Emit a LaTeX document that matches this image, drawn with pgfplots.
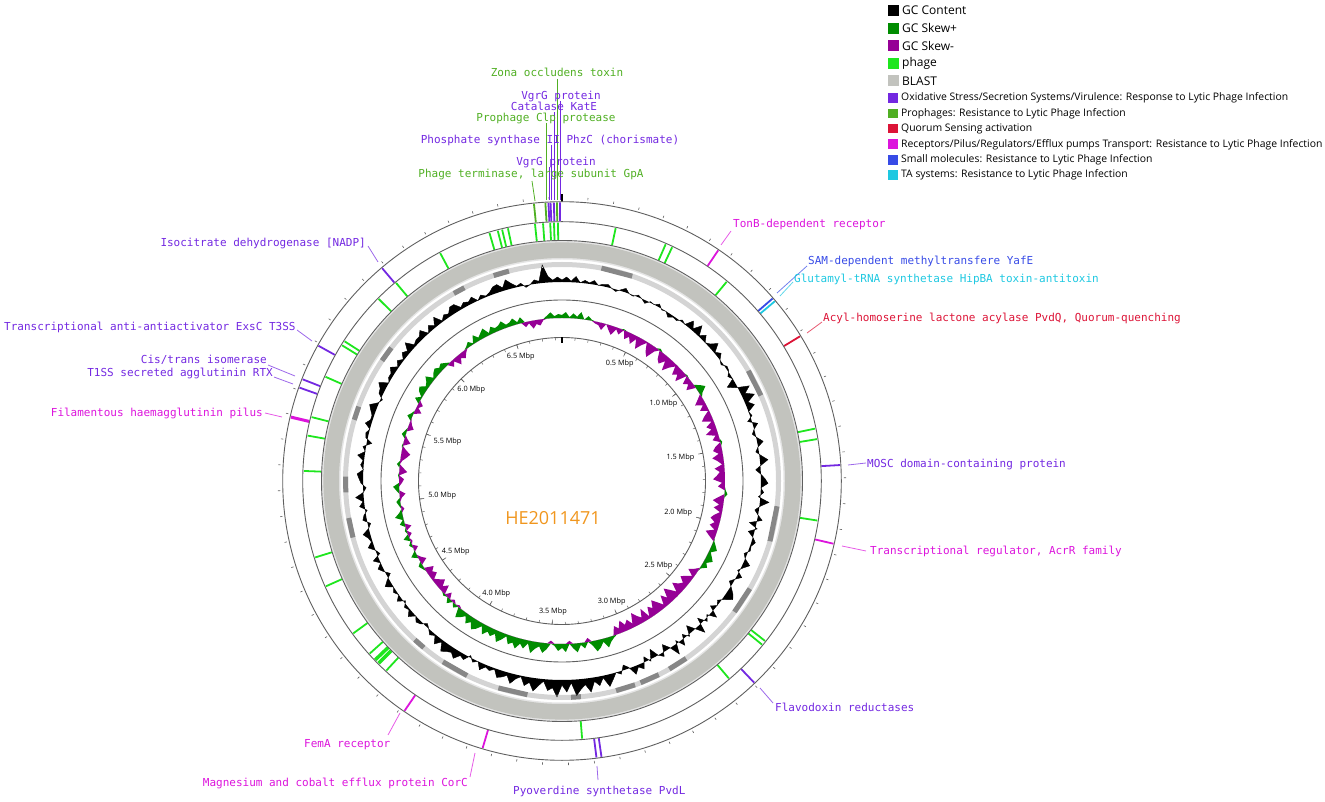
\documentclass[border=0pt]{standalone}
\usepackage{pgfplots}
\pgfplotsset{compat=1.18}
\usepackage{pgfplotstable}
\usepgfplotslibrary{fillbetween}
\usepackage{fontspec}
\setmainfont{Open Sans}
\newfontfamily\mono{DejaVu Sans Mono}

\definecolor{skewpos}{RGB}{0,140,0}
\definecolor{skewneg}{RGB}{150,0,150}
\definecolor{phage}{RGB}{30,230,30}
\definecolor{blast}{RGB}{194,195,190}
\definecolor{oxid}{RGB}{115,40,225}
\definecolor{proph}{RGB}{80,175,35}
\definecolor{quor}{RGB}{220,20,55}
\definecolor{recep}{RGB}{220,20,220}
\definecolor{smallm}{RGB}{55,75,230}
\definecolor{tasys}{RGB}{30,200,225}
\definecolor{ringc}{RGB}{95,95,95}
\definecolor{hecol}{RGB}{240,150,30}

\def\glen{6.85}
% genome position (Mbp) -> polar angle, 0 at top, clockwise
\pgfplotsset{gpos/.style={data cs=polar}}

% GC content (c) and GC skew (s) per 25 kbp window, in px off the baseline
\pgfplotstableread[row sep=\\]{
p c s\\
0.000 2 3\\ 0.025 5 6\\ 0.050 1 1\\ 0.075 6 5\\ 0.100 0 2\\ 0.125 3 7\\ 0.150 1 0\\ 0.175 4 4\\ 0.200 0 1\\ 0.225 2 -2\\
0.250 3 -3\\ 0.275 0 -7\\ 0.300 -2 0\\ 0.325 1 -5\\ 0.350 4 -9\\ 0.375 0 -2\\ 0.400 -1 -6\\ 0.425 2 1\\ 0.450 0 -8\\ 0.475 -3 -4\\
0.500 1 -10\\ 0.525 0 -3\\ 0.550 3 -12\\ 0.575 -1 -6\\ 0.600 0 -1\\ 0.625 -4 -9\\ 0.650 -1 -13\\ 0.675 -2 -4\\ 0.700 2 2\\ 0.725 0 -8\\
0.750 8 -11\\ 0.775 2 -5\\ 0.800 10 -14\\ 0.825 1 -7\\ 0.850 6 -2\\ 0.875 0 -10\\ 0.900 3 -6\\ 0.925 9 -12\\ 0.950 1 1\\ 0.975 5 -8\\
1.000 0 -4\\ 1.025 -2 -9\\ 1.050 2 5\\ 1.075 1 9\\ 1.100 -3 3\\ 1.125 0 -5\\ 1.150 -9 -10\\ 1.175 -2 -3\\ 1.200 11 -8\\ 1.225 4 -1\\
1.250 12 -7\\ 1.275 3 -11\\ 1.300 8 -2\\ 1.325 0 -9\\ 1.350 2 -5\\ 1.375 -4 -12\\ 1.400 5 -3\\ 1.425 0 -7\\ 1.450 -3 2\\ 1.475 1 -6\\
1.500 6 -9\\ 1.525 0 -4\\ 1.550 -3 -11\\ 1.575 2 -6\\ 1.600 8 -2\\ 1.625 1 -10\\ 1.650 -5 -5\\ 1.675 0 -8\\ 1.700 4 -12\\ 1.725 7 -3\\
1.750 0 -7\\ 1.775 3 1\\ 1.800 -2 3\\ 1.825 9 -6\\ 1.850 1 -11\\ 1.875 -4 -4\\ 1.900 0 -9\\ 1.925 5 -2\\ 1.950 -7 -7\\ 1.975 2 -10\\
2.000 -6 -5\\ 2.025 0 -9\\ 2.050 4 -3\\ 2.075 1 -11\\ 2.100 2 -6\\ 2.125 -3 1\\ 2.150 0 4\\ 2.175 7 7\\ 2.200 2 2\\ 2.225 -2 5\\
2.250 5 8\\ 2.275 0 3\\ 2.300 -4 6\\ 2.325 1 1\\ 2.350 6 -4\\ 2.375 9 -9\\ 2.400 2 -2\\ 2.425 -3 -7\\ 2.450 0 -11\\ 2.475 -5 -5\\
2.500 7 -8\\ 2.525 -2 -13\\ 2.550 3 -4\\ 2.575 -6 -10\\ 2.600 9 -15\\ 2.625 0 -6\\ 2.650 -8 -12\\ 2.675 2 -3\\ 2.700 -4 -9\\ 2.725 6 -14\\
2.750 -3 -7\\ 2.775 10 -11\\ 2.800 -1 -2\\ 2.825 -7 -13\\ 2.850 4 -5\\ 2.875 0 -9\\ 2.900 -9 -14\\ 2.925 2 -4\\ 2.950 -5 -10\\ 2.975 6 -6\\
3.000 2 -12\\ 3.025 8 -5\\ 3.050 -1 -9\\ 3.075 -5 2\\ 3.100 3 5\\ 3.125 0 10\\ 3.150 6 3\\ 3.175 12 8\\ 3.200 2 11\\ 3.225 9 4\\
3.250 4 -4\\ 3.275 14 6\\ 3.300 6 2\\ 3.325 10 9\\ 3.350 16 5\\ 3.375 3 -3\\ 3.400 12 8\\ 3.425 5 4\\ 3.450 17 7\\ 3.475 8 2\\
3.500 11 -3\\ 3.525 2 6\\ 3.550 7 10\\ 3.575 13 4\\ 3.600 5 7\\ 3.625 9 12\\ 3.650 1 3\\ 3.675 4 9\\ 3.700 10 5\\ 3.725 3 11\\
3.750 6 6\\ 3.775 8 9\\ 3.800 1 2\\ 3.825 4 7\\ 3.850 2 11\\ 3.875 7 4\\ 3.900 0 8\\ 3.925 3 5\\ 3.950 -2 10\\ 3.975 5 3\\
4.000 3 8\\ 4.025 9 11\\ 4.050 5 5\\ 4.075 7 9\\ 4.100 10 3\\ 4.125 2 7\\ 4.150 8 10\\ 4.175 1 -2\\ 4.200 4 4\\ 4.225 0 -3\\
4.250 -3 5\\ 4.275 2 -6\\ 4.300 4 2\\ 4.325 0 -9\\ 4.350 6 -4\\ 4.375 1 -10\\ 4.400 3 -6\\ 4.425 -2 -2\\ 4.450 5 -8\\ 4.475 0 -5\\
4.500 3 -9\\ 4.525 0 2\\ 4.550 7 4\\ 4.575 2 -7\\ 4.600 -4 -3\\ 4.625 1 6\\ 4.650 5 1\\ 4.675 0 -5\\ 4.700 6 3\\ 4.725 -3 -2\\
4.750 0 6\\ 4.775 6 -4\\ 4.800 1 2\\ 4.825 3 -6\\ 4.850 7 5\\ 4.875 0 1\\ 4.900 -3 8\\ 4.925 4 3\\ 4.950 2 -3\\ 4.975 -2 2\\
5.000 5 4\\ 5.025 1 -2\\ 5.050 8 -6\\ 5.075 0 3\\ 5.100 -3 6\\ 5.125 2 -3\\ 5.150 4 -5\\ 5.175 6 1\\ 5.200 0 -8\\ 5.225 3 -4\\
5.250 1 3\\ 5.275 7 -2\\ 5.300 0 -6\\ 5.325 3 -9\\ 5.350 -5 -4\\ 5.375 2 1\\ 5.400 3 -7\\ 5.425 0 -3\\ 5.450 6 4\\ 5.475 2 2\\
5.500 2 -6\\ 5.525 5 -3\\ 5.550 8 -1\\ 5.575 1 5\\ 5.600 -2 2\\ 5.625 4 -7\\ 5.650 5 -2\\ 5.675 9 -5\\ 5.700 0 6\\ 5.725 3 1\\
5.750 3 6\\ 5.775 7 8\\ 5.800 1 3\\ 5.825 5 5\\ 5.850 1 9\\ 5.875 6 2\\ 5.900 3 5\\ 5.925 10 7\\ 5.950 2 4\\ 5.975 4 6\\
6.000 4 3\\ 6.025 8 -6\\ 6.050 0 -2\\ 6.075 6 -9\\ 6.100 2 -4\\ 6.125 9 -7\\ 6.150 1 -3\\ 6.175 5 2\\ 6.200 3 5\\ 6.225 8 1\\
6.250 8 8\\ 6.275 2 3\\ 6.300 5 6\\ 6.325 3 9\\ 6.350 6 2\\ 6.375 0 7\\ 6.400 4 4\\ 6.425 1 5\\ 6.450 3 8\\ 6.475 7 3\\
6.500 8 4\\ 6.525 3 7\\ 6.550 10 2\\ 6.575 5 6\\ 6.600 1 -5\\ 6.625 3 -2\\ 6.650 -2 -8\\ 6.675 0 -4\\ 6.700 4 -6\\ 6.725 2 -1\\
6.750 18 3\\ 6.775 6 6\\ 6.800 2 2\\ 6.825 5 4\\ 6.850 2 3\\
}\gcdata

% feature in the outer ring (categories) and in the phage ring
\newcommand{\featA}[3][1.8pt]{\addplot[draw=#2, line width=#1, gpos] table[row sep=\\, x expr={90-\thisrow{p}*360/\glen}, y=r] {p r\\ #3 259.8\\ #3 278.6\\};}
\newcommand{\featB}[2][1.8pt]{\addplot[draw=phage, line width=#1, gpos] table[row sep=\\, x expr={90-\thisrow{p}*360/\glen}, y=r] {p r\\ #2 240.8\\ #2 258.4\\};}
% darker BLAST hit segments on the inner BLAST track
\newcommand{\seg}[2]{\addplot[draw=black!47, line width=5pt, gpos] table[row sep=\\, x expr={90-\thisrow{p}*360/\glen}, y=r] {p r\\ #1 216.5\\ #2 216.5\\};}

\begin{document}
\begin{tikzpicture}
\begin{axis}[x=1pt, y=1pt, xmin=-562, xmax=763, ymin=-320, ymax=481,
  hide axis, clip=false]
\coordinate (cen) at (axis cs:0,0);
% BLAST ring
\fill[black!10, even odd rule] (axis cs:0,0) circle[radius=240pt] (axis cs:0,0) circle[radius=221.5pt];
\fill[blast, even odd rule] (axis cs:0,0) circle[radius=238.6pt] (axis cs:0,0) circle[radius=223pt];
\fill[black!17, even odd rule] (axis cs:0,0) circle[radius=219pt] (axis cs:0,0) circle[radius=214pt];
\seg{0.20}{0.36}\seg{1.13}{1.27}\seg{1.84}{2.02}\seg{2.28}{2.42}\seg{2.76}{2.86}
\seg{2.92}{3.02}\seg{3.05}{3.15}\seg{3.33}{3.38}\seg{3.60}{3.75}\seg{3.92}{4.06}
\seg{4.18}{4.24}\seg{4.85}{4.95}\seg{5.08}{5.16}\seg{5.45}{5.52}\seg{5.78}{5.86}
\seg{6.28}{6.34}\seg{6.50}{6.58}

% GC content
\addplot[draw=none, name path=gcl, gpos] table[x expr={90-\thisrow{p}*360/\glen}, y expr={199+\thisrow{c}}] {\gcdata};
\addplot[draw=none, name path=gcb, gpos] table[x expr={90-\thisrow{p}*360/\glen}, y expr={199}] {\gcdata};
\addplot[fill=black, draw=none] fill between[of=gcl and gcb];
\addplot[black, line width=0.4pt, gpos] table[x expr={90-\thisrow{p}*360/\glen}, y expr={199+\thisrow{c}}] {\gcdata};

% GC skew
\addplot[draw=none, name path=skp, gpos] table[x expr={90-\thisrow{p}*360/\glen}, y expr={163+max(\thisrow{s},0)}] {\gcdata};
\addplot[draw=none, name path=skn, gpos] table[x expr={90-\thisrow{p}*360/\glen}, y expr={163+min(\thisrow{s},0)}] {\gcdata};
\addplot[draw=none, name path=skb, gpos] table[x expr={90-\thisrow{p}*360/\glen}, y expr={163}] {\gcdata};
\addplot[fill=skewpos, draw=none] fill between[of=skp and skb];
\addplot[fill=skewneg, draw=none] fill between[of=skn and skb];

% phage ring
\featB{0.228}\featB{0.45}\featB{0.48}\featB{0.753}\featB{1.49}\featB{1.535}
\featB{1.88}\featB{2.44}\featB{2.46}\featB{2.66}\featB{3.34}\featB{4.24}
\featB[3.5pt]{4.285}\featB[3.5pt]{4.305}\featB{4.34}\featB{4.45}\featB{4.68}
\featB{4.81}\featB{5.18}\featB{5.33}\featB{5.41}\featB{5.59}\featB{5.74}
\featB{5.76}\featB{5.99}\featB{6.09}\featB{6.315}\featB{6.54}\featB{6.576}
\featB{6.595}\featB{6.62}\featB{6.736}\featB{6.77}\featB{6.80}\featB{6.816}
\featB{6.833}

% category ring
\featA{oxid}{6.085}\featA{oxid}{5.69}\featA{oxid}{5.545}\featA{oxid}{5.51}
\featA[3pt]{recep}{5.39}\featA{recep}{0.649}\featA{smallm}{0.934}\featA{tasys}{0.948}
\featA{quor}{1.117}\featA{oxid}{1.65}\featA{recep}{1.96}\featA{oxid}{2.595}
\featA{oxid}{3.27}\featA{oxid}{3.29}\featA{recep}{3.74}\featA{recep}{4.08}
\featA{proph}{6.74}\featA{proph}{6.785}\featA{oxid}{6.797}\featA{oxid}{6.805}
\featA{oxid}{6.818}\featA{proph}{6.83}\featA{oxid}{6.842}
\end{axis}

% rings, ticks and scale
\begin{scope}[shift={(cen)}]
\foreach \r in {279.3,259.3,240.5,181,143.5}
  \draw[ringc, line width=0.9pt] (0,0) circle[radius=\r pt];
\foreach \i in {1,...,68}{
  \pgfmathsetmacro\a{90-\i*36/\glen}
  \draw[ringc, line width=0.6pt] (\a:281.8pt) -- (\a:284.2pt);
  \draw[ringc, line width=0.5pt] (\a:143.5pt) -- (\a:140.8pt);
}
\draw[black, line width=1.6pt] (90:279.5pt) -- (90:287pt);
\draw[black, line width=1.4pt] (90:143.5pt) -- (90:138pt);
\foreach \m in {0.5,1.0,1.5,2.0,2.5,3.0,3.5,4.0,4.5,5.0,5.5,6.0,6.5}{
  \pgfmathsetmacro\a{90-\m*360/\glen}
  \draw[ringc, line width=0.6pt] (\a:143.5pt) -- (\a:139pt);
  \node[anchor=\a, inner sep=1pt, font=\fontsize{7.3}{8}\selectfont] at (\a:136pt) {\m\ Mbp};
}
\end{scope}

% labels, connectors and legend in image pixels (origin top left)
\begin{scope}[shift={(current axis.north west)}, x=1pt, y=-1pt]
\node[text=hecol, font=\fontsize{18}{20}\selectfont] at (553,518) {HE2011471};

\begin{scope}[line width=0.8pt]
\draw[proph] (532,181) -- (535,201);
\draw[proph] (546,123) -- (546,200);
\draw[oxid] (549,167) -- (549,200);
\draw[oxid] (551,145) -- (551,200);
\draw[oxid] (554,112) -- (554,200);
\draw[proph] (557,79) -- (557,200);
\draw[oxid] (560,101) -- (560,200);
\draw[oxid!70] (368,246) -- (378,262);
\draw[oxid!70] (297,330) -- (312,341);
\draw[oxid!70] (268,365) -- (295,376);
\draw[oxid!70] (274,377) -- (293,384);
\draw[recep!70] (265,413) -- (282,417);
\draw[recep!70] (731,231) -- (721,245);
\draw[smallm!70] (807,266) -- (777,293);
\draw[tasys!70] (793,282) -- (780,296);
\draw[quor!70] (822,322) -- (807,333);
\draw[oxid!70] (848,465) -- (866,463);
\draw[recep!70] (842,546) -- (866,551);
\draw[oxid!70] (760,688) -- (773,703);
\draw[oxid!70] (597,766) -- (598,780);
\draw[recep!70] (475,753) -- (470,777);
\draw[recep!70] (400,713) -- (388,735);
\end{scope}

\begin{scope}[every node/.style={inner sep=0pt, font=\fontsize{11}{12}\mono}]
\node[text=proph, anchor=base] at (557,77) {Zona occludens toxin};
\node[text=oxid, anchor=base] at (561,100) {VgrG protein};
\node[text=oxid, anchor=base] at (554,111) {Catalase KatE};
\node[text=proph, anchor=base] at (546,122) {Prophage Clp protease};
\node[text=oxid, anchor=base] at (550,144) {Phosphate synthase II PhzC (chorismate)};
\node[text=oxid, anchor=base] at (556,166) {VgrG protein};
\node[text=proph, anchor=base] at (531,178) {Phage terminase, large subunit GpA};
\node[text=oxid, anchor=base east] at (366,247) {Isocitrate dehydrogenase [NADP]};
\node[text=oxid, anchor=base west] at (4,331) {Transcriptional anti-antiactivator ExsC T3SS};
\node[text=oxid, anchor=base east] at (267,364) {Cis/trans isomerase};
\node[text=oxid, anchor=base east] at (273,377) {T1SS secreted agglutinin RTX};
\node[text=recep, anchor=base east] at (263,417) {Filamentous haemagglutinin pilus};
\node[text=recep, anchor=base west] at (733,228) {TonB-dependent receptor};
\node[text=smallm, anchor=base west] at (808,265) {SAM-dependent methyltransfere YafE};
\node[text=tasys, anchor=base west] at (794,283) {Glutamyl-tRNA synthetase HipBA toxin-antitoxin};
\node[text=quor, anchor=base west] at (823,322) {Acyl-homoserine lactone acylase PvdQ, Quorum-quenching};
\node[text=oxid, anchor=base west] at (867,468) {MOSC domain-containing protein};
\node[text=recep, anchor=base west] at (870,555) {Transcriptional regulator, AcrR family};
\node[text=oxid, anchor=base west] at (775,711) {Flavodoxin reductases};
\node[text=oxid, anchor=base west] at (513,794) {Pyoverdine synthetase PvdL};
\node[text=recep, anchor=base east] at (468,786) {Magnesium and cobalt efflux protein CorC};
\node[text=recep, anchor=base west] at (304,747) {FemA receptor};
\end{scope}

% legend
\foreach \y/\c/\t in {10.7/black/{GC Content}, 28.5/skewpos/{GC Skew+}, 45.7/skewneg/{GC Skew-}, 63.3/phage/{phage}, 81/blast/{BLAST}}{
  \fill[\c] (888,\y-5.5) rectangle (899,\y+5.5);
  \node[anchor=west, inner sep=0pt, font=\fontsize{12}{14}\selectfont] at (902,\y) {\t};
}
\foreach \y/\c/\t in {98/oxid/{Oxidative Stress/Secretion Systems/Virulence: Response to Lytic Phage Infection},
  113.5/proph/{Prophages: Resistance to Lytic Phage Infection},
  128.7/quor/{Quorum Sensing activation},
  144.3/recep/{Receptors/Pilus/Regulators/Efflux pumps Transport: Resistance to Lytic Phage Infection},
  159.8/smallm/{Small molecules: Resistance to Lytic Phage Infection},
  175/tasys/{TA systems: Resistance to Lytic Phage Infection}}{
  \fill[\c] (888,\y-4.8) rectangle (898,\y+4.8);
  \node[anchor=west, inner sep=0pt, font=\fontsize{10.4}{12}\selectfont] at (901,\y) {\t};
}
\end{scope}
\path[use as bounding box] (current axis.south west) rectangle (current axis.north east);
\end{tikzpicture}
\end{document}
